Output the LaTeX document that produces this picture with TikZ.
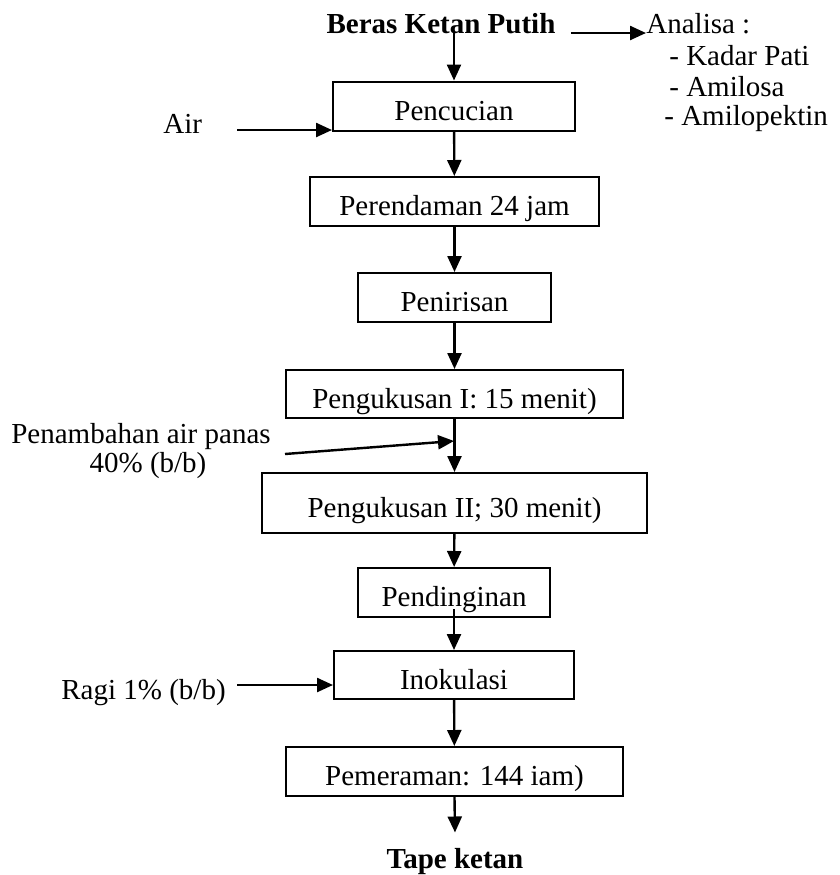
\documentclass[tikz,border=0pt]{standalone}
\usepackage{fontspec}
\setmainfont{Liberation Serif}
\usetikzlibrary{arrows.meta}

\begin{document}
\begin{tikzpicture}[x=0.5pt,y=-0.5pt,
  teks/.style={inner sep=0pt,font=\fontsize{14.5}{17.4}\selectfont},
  proses/.style={teks,draw,line width=1pt,text height=17pt,text depth=3pt,minimum height=24.5pt},
  panah/.style={line width=1.2pt,-{Triangle[length=8pt,width=7pt]}}]
\useasboundingbox (0,0) rectangle (840,875);

% bahan dan hasil
\node[teks,anchor=base,font=\fontsize{14.5}{17.4}\selectfont\bfseries] (beras) at (441,33) {Beras Ketan Putih};
\node[teks,anchor=base,font=\fontsize{14.5}{17.4}\selectfont\bfseries] (tape) at (455,868) {Tape ketan};
\node[teks,anchor=base west] (analisa) at (646,33) {Analisa :};
\node[teks,anchor=base west] (kadar) at (669,65) {- Kadar Pati};
\node[teks,anchor=base west] (amilosa) at (669,96) {- Amilosa};
\node[teks,anchor=base west] (amilopektin) at (664,125) {- Amilopektin};

% tahapan proses
\node[proses,minimum width=121pt] (pencucian) at (454,106) {Pencucian};
\node[proses,minimum width=144.5pt] (perendaman) at (454.5,201.5) {Perendaman 24 jam};
\node[proses,minimum width=96.5pt] (penirisan) at (454.5,297.5) {Penirisan};
\node[proses,minimum width=168.5pt,minimum height=24pt] (kukus1) at (454.5,394) {Pengukusan I: 15 menit)};
\node[proses,minimum width=192.5pt,minimum height=30pt] (kukus2) at (454.5,503) {Pengukusan II; 30 menit)};
\node[proses,minimum width=96pt] (pendinginan) at (454,592.5) {Pendinginan};
\node[proses,minimum width=120pt,minimum height=24pt] (inokulasi) at (454,675) {Inokulasi};
\node[proses,minimum width=168.5pt] (pemeraman) at (454.5,771.5) {Pemeraman: 144 iam)};

% masukan samping
\node[teks,anchor=base west] (air) at (163,133) {Air};
\node[teks,anchor=base] (panas1) at (141,443) {Penambahan air panas};
\node[teks,anchor=base] (panas2) at (148,472) {40\% (b/b)};
\node[teks,anchor=base west] (ragi) at (61,699) {Ragi 1\% (b/b)};
\coordinate (airmasuk) at (237,130);
\coordinate (panasmasuk) at (285,454);
\coordinate (tambah) at (454,441);
\coordinate (ragimasuk) at (237,685);

\draw[panah] (beras.base -| pencucian.north) -- (pencucian.north);
\draw[panah] ([xshift=7.5pt]beras.base east) -- (analisa.base west);
\draw[panah] (airmasuk) -- (airmasuk -| pencucian.west);
\draw[panah] (pencucian) -- (perendaman);
\draw[panah] (perendaman) -- (penirisan);
\draw[panah] (penirisan) -- (kukus1);
\draw[panah] (kukus1) -- (kukus2);
\draw[panah] (panasmasuk) -- (tambah);
\draw[panah] (kukus2) -- (pendinginan);
\draw[panah] ([yshift=4.5pt]pendinginan.south) -- (inokulasi.north);
\draw[panah] (ragimasuk) -- (ragimasuk -| inokulasi.west);
\draw[panah] (inokulasi) -- (pemeraman);
\draw[panah] (pemeraman.south) -- ([yshift=7.5pt]tape.north);
\end{tikzpicture}
\end{document}
